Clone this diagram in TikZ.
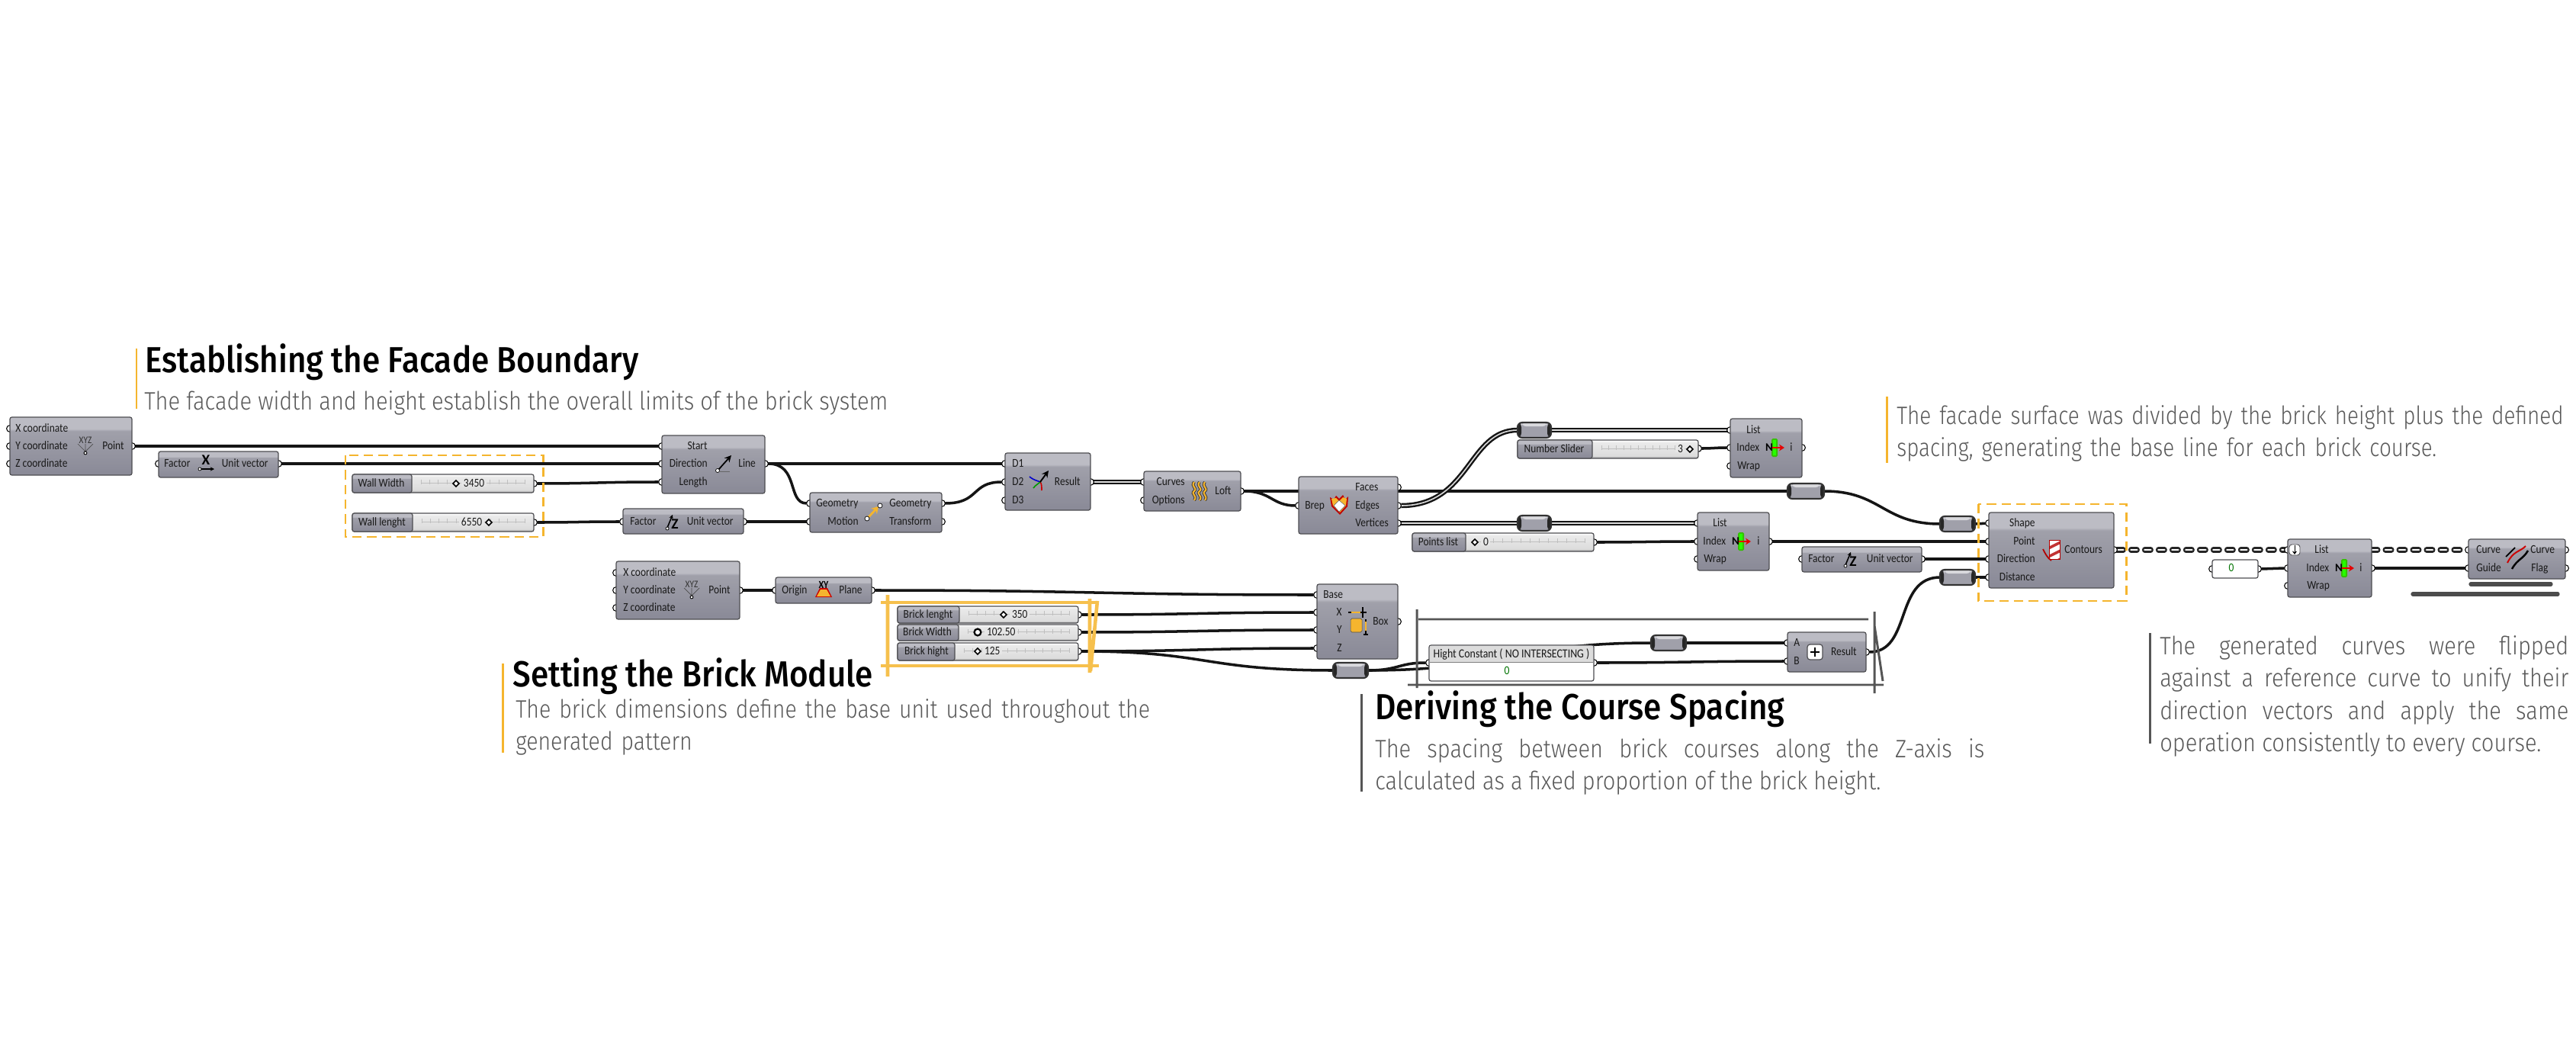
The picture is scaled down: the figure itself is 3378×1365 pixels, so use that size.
\documentclass[tikz,border=0pt]{standalone}
\usepackage{fontspec}
\usetikzlibrary{backgrounds,arrows.meta,calc}
\setmainfont{Carlito}
\newfontfamily\lblf{Carlito}[FakeStretch=0.86]
\newfontfamily\titlef{Fira Sans Medium}[FakeStretch=0.89]
\newfontfamily\bodyf{Fira Sans Light}[FakeStretch=0.88]
\newfontfamily\bodyfb{Fira Sans Light}[FakeStretch=0.862]
\newfontfamily\bodyfc{Fira Sans Light}[FakeStretch=0.843]
\definecolor{orng}{HTML}{F5B52E}
\definecolor{ggb}{HTML}{8B8B98}
\definecolor{ggm}{HTML}{A0A0AA}
\definecolor{ggt}{HTML}{BCBCC4}
\definecolor{edgec}{HTML}{4E4E52}
\definecolor{lightp}{HTML}{DCDCDC}
\definecolor{wirec}{HTML}{151515}
\definecolor{handg}{HTML}{555555}
\definecolor{bodyc}{HTML}{5A5A5A}
\pgfdeclareverticalshading{ghshade}{100bp}{color(0bp)=(ggb); color(25bp)=(ggb); color(28bp)=(ggb); color(63bp)=(ggm); color(65bp)=(ggt); color(74bp)=(ggt); color(75bp)=(ggt); color(100bp)=(ggt)}
\pgfdeclareverticalshading{slidshade}{100bp}{color(0bp)=(lightp!75!black); color(25bp)=(lightp!75!black); color(32bp)=(lightp); color(68bp)=(lightp!60!white); color(75bp)=(white); color(100bp)=(white)}
\tikzset{
  x=0.02cm,y=-0.02cm,
  ghbox/.style={shading=ghshade,draw=edgec,line width=0.7pt,rounded corners=1.5pt,inner sep=0,outer sep=0},
  slidbox/.style={shading=slidshade,draw=edgec,line width=0.7pt,rounded corners=1.5pt,inner sep=0,outer sep=0},
  panelbox/.style={fill=white,draw=edgec,line width=0.7pt,rounded corners=1.5pt,inner sep=0,outer sep=0},
  relaybox/.style={fill=ggm,draw=black!80,line width=1.2pt,rounded corners=3.5pt,inner sep=0,outer sep=0},
  portst/.style={circle,fill=white,draw=black,line width=0.6pt,minimum size=5pt,inner sep=0,outer sep=0},
  lab/.style={font=\lblf\fontsize{8.9}{10}\selectfont,text=black!90,inner sep=0},
  labl/.style={lab,anchor=mid west},
  labr/.style={lab,anchor=mid east},
  labc/.style={lab,anchor=mid},
  wire/.style={line width=2pt,draw=wirec},
  dblw/.style={line width=1.4pt,draw=wirec,double=lightp,double distance=0.9pt},
  chainb/.style={line width=4pt,draw=black!85,line cap=round,dash pattern=on 4.55pt off 5.69pt},
  chainw/.style={line width=1.5pt,draw=white,line cap=round,dash pattern=on 4.55pt off 5.69pt},
  title/.style={font=\titlef\fontsize{27}{30}\selectfont,anchor=base west,inner sep=0,text=black},
  bodyt/.style={font=\bodyf\fontsize{18.8}{24.2}\selectfont,inner sep=0,text=bodyc},
  obar/.style={line width=1.7pt,draw=orng},
  gbar/.style={line width=1.7pt,draw=handg},
  dashbox/.style={draw=orng,line width=1.7pt,dash pattern=on 7pt off 4pt},
  handorng/.style={draw=orng!85,line width=2.6pt},
  handgray/.style={draw=handg,line width=1.7pt},
  shadowbar/.style={draw=black!70,line width=3pt,line cap=round},
  grip/.style={diamond,draw=black,line width=0.9pt,fill=white,inner sep=0,minimum size=5pt},
}
\usetikzlibrary{shapes.geometric}
\newcount\labcnt
\newcommand{\nl}{\global\advance\labcnt by 1 }
\newcommand{\lL}[3]{\nl\node[labl] (tl\the\labcnt) at (#1,#2) {#3};}
\newcommand{\lR}[3]{\nl\node[labr] (tl\the\labcnt) at (#1,#2) {#3};}
\newcommand{\lC}[3]{\nl\node[labc] (tl\the\labcnt) at (#1,#2) {#3};}
\newcommand{\port}[3]{\node[portst] (#1) at (#2,#3) {};}
\newcommand{\comp}[5]{\node[ghbox,minimum width={(#4-#2)*0.02cm},minimum height={(#5-#3)*0.02cm}] (#1) at ({(#2+#4)/2},{(#3+#5)/2}) {};}
\newcommand{\relay}[4]{%
  \node[relaybox,minimum width={(#3-#2)*0.02cm},minimum height=20*0.02cm,path picture={%
    \fill[black!85] (path picture bounding box.north west) rectangle ++(5,20);
    \fill[black!85] (path picture bounding box.north east) rectangle ++(-5,20);
    \fill[white!60!ggm] ($(path picture bounding box.north west)+(5,0)$) rectangle ($(path picture bounding box.north east)+(-5,5)$);
  }] (#1) at ({(#2+#3)/2},#4) {};}
% slider: name x1 y1 x2 y2 div label labelcx
\newcommand{\slider}[8]{%
  \node[slidbox,minimum width={(#4-#2)*0.02cm},minimum height={(#5-#3)*0.02cm}] (#1) at ({(#2+#4)/2},{(#3+#5)/2}) {};
  \node[ghbox,minimum width={(#6-#2)*0.02cm},minimum height={(#5-#3)*0.02cm}] (#1-name) at ({(#2+#6)/2},{(#3+#5)/2}) {};
  \draw[black!25,line width=0.3pt] (#6+12,{(#3+#5)/2-1}) -- (#4-12,{(#3+#5)/2-1});
  \foreach \tk in {0,1,...,12}{\draw[black!25,line width=0.3pt] ({#6+12+\tk*(#4-#6-24)/12},{(#3+#5)/2-5}) -- ++(0,6);}
  \lC{#8}{{(#3+#5)/2}}{#7}
}
\newcommand{\sval}[3]{\nl\node[lab,fill=lightp!70!white,inner xsep=1.5pt,anchor=mid west] (tl\the\labcnt) at (#1,#2) {#3};}
\newcommand{\gripat}[3]{\node[grip] (#1) at (#2,#3) {};}
% icons
\newcommand{\xyzicon}[2]{\begin{scope}[shift={(#1,#2)}]
  \nl\node[inner sep=0,font=\lblf\fontsize{7.5}{8}\selectfont,text=black!80] (tl\the\labcnt) at (0,-8) {XYZ};
  \draw[black!70,line width=0.4pt] (-10,-3) -- (0,7) (0,-3) -- (0,7) (10,-3) -- (0,7);
  \draw[black,line width=0.5pt,fill=white] (0,9) circle (2);
\end{scope}}
\newcommand{\uzicon}[2]{\begin{scope}[shift={(#1,#2)}]
  \nl\node[inner sep=0,font=\bfseries\fontsize{11}{12}\selectfont,text=black] (tl\the\labcnt) at (4,3) {Z};
  \draw[black,line width=0.9pt,-{Stealth[length=3pt,width=3pt]}] (-6,8) -- (1,-9);
  \draw[black,line width=0.4pt,fill=white] (-6,9) circle (2);
\end{scope}}
\newcommand{\nicon}[2]{\begin{scope}[shift={(#1,#2)}]
  \fill[green!70!black!80!yellow,rounded corners=1pt] (-4,-12) rectangle (4,12);
  \fill[green!85!yellow] (-2,-10) rectangle (2,10);
  \nl\node[inner sep=0,font=\bfseries\fontsize{8.5}{9}\selectfont,text=black] (tl\the\labcnt) at (-7,0) {N};
  \draw[red!90!black,line width=1.3pt,-{Stealth[length=4pt,width=5pt]}] (-3,0) -- (13,0);
\end{scope}}
\begin{document}
\begin{tikzpicture}
\useasboundingbox (0,0) rectangle (3378,1365);
\begin{scope}[on background layer]
\fill[white] (0,0) rectangle (3378,1365);
\end{scope}

%%%% ports (drawn first so the boxes cover half of each)
\port{pa1}{13}{562}\port{pa2}{13}{585}\port{pa3}{13}{608}\port{pao}{173}{585}
\port{ux1}{208}{608}\port{uxo}{365}{608}
\port{ww}{700}{634}\port{wl}{700}{685}
\port{ls}{868}{585}\port{ld}{868}{608}\port{ll}{868}{632}\port{lo}{1003}{608}
\port{uz1}{817}{684}\port{uzo}{975}{684}
\port{mg}{1062}{660}\port{mm}{1062}{684}\port{mog}{1235}{660}\port{mot}{1235}{684}
\port{d1}{1318}{608}\port{d2}{1318}{632}\port{d3}{1318}{656}\port{dr}{1430}{632}
\port{lc}{1500}{632}\port{lp}{1500}{656}\port{lf}{1627}{644}
\port{bi}{1703}{663}\port{bf}{1833}{639}\port{be}{1833}{663}\port{bv}{1833}{686}
\port{i1l}{2269}{564}\port{i1i}{2269}{587}\port{i1w}{2269}{611}\port{i1o}{2363}{587}
\port{ns}{2227}{588}\port{pl}{2090}{711}
\port{i2l}{2226}{686}\port{i2i}{2226}{710}\port{i2w}{2226}{733}\port{i2o}{2320}{710}
\port{pb1}{808}{751}\port{pb2}{808}{774}\port{pb3}{808}{797}\port{pbo}{970}{774}
\port{po}{1017}{774}\port{pp}{1143}{774}
\port{bl}{1414}{806}\port{bw}{1414}{829}\port{bh}{1414}{854}
\port{xb}{1727}{780}\port{xx}{1727}{803}\port{xy}{1727}{826}\port{xz}{1727}{850}\port{xo}{1833}{815}
\port{pani}{1874}{869}\port{pano}{2090}{869}
\port{aa}{2344}{843}\port{ab}{2344}{867}\port{ar}{2447}{855}
\port{cs}{2608}{686}\port{cp}{2608}{710}\port{cd}{2608}{733}\port{cn}{2608}{757}\port{co}{2772}{721}
\port{uz3i}{2363}{733}\port{uz3o}{2520}{733}
\port{zi}{2901}{746}\port{zo}{2961}{746}
\port{i3l}{3000}{721}\port{i3i}{3000}{745}\port{i3w}{3000}{768}\port{i3o}{3110}{745}
\port{fc}{3237}{721}\port{fg}{3237}{745}\port{foc}{3364}{721}\port{fof}{3364}{745}

%%%% components
\comp{PtA}{13}{547}{173}{623}
\lL{20}{562}{X coordinate}\lL{20}{585}{Y coordinate}\lL{20}{608}{Z coordinate}\lR{163}{585}{Point}\xyzicon{112}{585}
\comp{UX}{208}{592}{365}{626}
\lL{215}{608}{Factor}\lR{352}{608}{Unit vector}
\nl\node[inner sep=0,font=\bfseries\fontsize{11}{12}\selectfont] (tl\the\labcnt) at (270,603) {X};
\draw[black,line width=0.9pt,-{Stealth[length=3pt,width=3pt]}] (262,615) -- (281,615);
\draw[black,line width=0.4pt,fill=white] (262,615) circle (2);

\slider{WW}{462}{622}{700}{646}{540}{Wall Width}{500}
\gripat{gww}{598}{634}\sval{605}{634}{3450}
\slider{WL}{462}{673}{700}{697}{541}{Wall lenght}{501}
\sval{602}{685}{6550}\gripat{gwl}{641}{685}

\comp{Ln}{868}{571}{1003}{647}
\lR{928}{585}{Start}\lR{928}{608}{Direction}\lR{928}{632}{Length}\lL{968}{608}{Line}
\draw[black,line width=1pt,-{Stealth[length=5pt,width=5pt]}] (942,616) -- (959,597);
\draw[black,line width=0.4pt,fill=white] (941,617) circle (2.5);
\draw[black!60,line width=0.5pt] (943,618) -- (957,618);

\comp{UZ2}{817}{667}{975}{700}
\lL{826}{684}{Factor}\lR{962}{684}{Unit vector}\uzicon{881}{684}

\comp{Mv}{1062}{646}{1235}{698}
\lL{1070}{660}{Geometry}\lR{1126}{684}{Motion}\lL{1166}{660}{Geometry}\lL{1166}{684}{Transform}
\draw[orng,line width=1.6pt,-{Stealth[length=5pt,width=6pt]}] (1139,678) -- (1152,664);
\draw[black,line width=0.4pt,fill=white] (1154,663) circle (3);
\draw[black,line width=0.4pt,fill=white] (1137,680) circle (3);

\comp{Mg}{1318}{594}{1430}{669}
\lL{1327}{608}{D1}\lL{1327}{632}{D2}\lL{1327}{656}{D3}\lR{1417}{632}{Result}
\draw[blue!80!black,line width=0.9pt] (1350,625) .. controls (1356,630) and (1360,630) .. (1364,632);
\draw[red!80!black,line width=0.9pt] (1366,643) .. controls (1366,638) and (1366,634) .. (1364,632);
\draw[green!60!black,line width=0.9pt] (1355,640) .. controls (1358,636) and (1362,634) .. (1364,632);
\draw[black,line width=1.1pt,-{Stealth[length=5pt,width=5pt]}] (1364,632) -- (1375,617);

\comp{Lf}{1500}{618}{1627}{670}
\lR{1554}{632}{Curves}\lR{1554}{656}{Options}\lL{1593}{644}{Loft}
\foreach \dx in {-7,0,7}{
  \draw[black!80,line width=2.2pt,shift={(1573+\dx,644)}] (0,-12) .. controls (-5,-6) and (5,-4) .. (0,0) .. controls (-5,4) and (5,6) .. (0,12);
  \draw[orng,line width=1.2pt,shift={(1573+\dx,644)}] (0,-12) .. controls (-5,-6) and (5,-4) .. (0,0) .. controls (-5,4) and (5,6) .. (0,12);
}

\comp{Br}{1703}{625}{1833}{700}
\lL{1711}{663}{Brep}\lL{1777}{639}{Faces}\lL{1777}{663}{Edges}\lL{1777}{686}{Vertices}
\fill[red!75!black] (1744,652) -- (1749,655) -- (1752,650) -- (1756,654) -- (1761,649) -- (1764,655) -- (1768,651) -- (1767,664) -- (1757,675) -- (1746,664) -- cycle;
\fill[orng] (1746,654) -- (1752,653) -- (1756,657) -- (1761,652) -- (1766,654) -- (1765,663) -- (1757,672) -- (1748,663) -- cycle;
\fill[white,draw=black!60,line width=0.3pt] (1756,656) -- (1764,663) -- (1756,671) -- (1749,663) -- cycle;

\comp{I1}{2269}{549}{2363}{626}
\lL{2290}{564}{List}\lL{2277}{587}{Index}\lL{2278}{611}{Wrap}\nicon{2327}{587}\lC{2349}{587}{i}
\slider{NS}{1990}{577}{2227}{601}{2088}{Number Slider}{2038}
\sval{2197}{589}{3}\gripat{gns}{2216}{589}
\slider{PL}{1852}{699}{2090}{723}{1922}{Points list}{1886}
\gripat{gpl}{1934}{711}\sval{1942}{711}{0}
\comp{I2}{2226}{672}{2320}{748}
\lL{2246}{686}{List}\lL{2233}{710}{Index}\lL{2234}{733}{Wrap}\nicon{2283}{710}\lC{2306}{710}{i}

\comp{PtB}{808}{736}{970}{812}
\lL{817}{751}{X coordinate}\lL{817}{774}{Y coordinate}\lL{817}{797}{Z coordinate}\lR{958}{774}{Point}\xyzicon{907}{774}
\comp{Pln}{1017}{757}{1143}{791}
\lL{1025}{774}{Origin}\lR{1131}{774}{Plane}
\nl\node[inner sep=0,font=\lblf\bfseries\fontsize{8}{9}\selectfont] (tl\the\labcnt) at (1080,767) {XY};
\fill[red!80!black] (1069,783) -- (1075,771) -- (1085,771) -- (1091,783) -- cycle;
\fill[orng] (1071,782) -- (1076,773) -- (1084,773) -- (1089,782) -- cycle;

\slider{BL}{1177}{795}{1414}{817}{1258}{Brick lenght}{1217}
\gripat{gbl}{1316}{806}\sval{1324}{806}{350}
\slider{BW}{1177}{819}{1414}{840}{1257}{Brick Width}{1216}
\node[circle,draw=black,line width=1.3pt,fill=white,inner sep=0,minimum size=5pt] (gbw) at (1282,829) {};\sval{1291}{829}{102.50}
\slider{BH}{1177}{843}{1414}{866}{1252}{Brick hight}{1215}
\gripat{gbh}{1282}{854}\sval{1288}{854}{125}

\comp{Bx}{1727}{766}{1833}{864}
\lL{1735}{780}{Base}\lR{1760}{803}{X}\lR{1760}{826}{Y}\lR{1760}{850}{Z}\lL{1800}{815}{Box}
\fill[orng,draw=black!70,line width=0.3pt,rounded corners=1pt] (1771,811) rectangle (1786,829);
\draw[black,line width=0.9pt] (1768,803) -- (1792,803) (1787,796) -- (1787,810);
\draw[orng,line width=1.6pt] (1772,803) -- (1784,803);
\draw[black,line width=0.9pt] (1791,812) -- (1791,832) (1788,832) -- (1794,832);
\draw[orng,line width=1.6pt] (1791,815) -- (1791,827);

\node[panelbox,minimum width=216*0.02cm,minimum height=47*0.02cm] (Pan) at (1982,869.5) {};
\fill[lightp] (1875,847) rectangle (2089,868);
\draw[black!50,line width=0.3pt] (1875,868) -- (2089,868);
\nl\node[lab,font=\lblf\fontsize{9.2}{10}\selectfont] (tl\the\labcnt) at (1982,858) {Hight Constant ( NO INTERSECTING )};
\nl\node[lab,text=green!45!black,font=\lblf\fontsize{9}{10}\selectfont] (tl\the\labcnt) at (1976,879) {0};

\comp{Ad}{2344}{829}{2447}{881}
\lL{2352}{843}{A}\lL{2352}{867}{B}\lR{2435}{855}{Result}
\node[panelbox,rounded corners=2pt,minimum size=20*0.02cm] (plusb) at (2380,855) {};
\draw[black,line width=1.2pt] (2374,855) -- (2386,855) (2380,849) -- (2380,861);

\comp{Ct}{2608}{672}{2772}{771}
\lR{2669}{686}{Shape}\lR{2669}{710}{Point}\lR{2669}{733}{Direction}\lR{2669}{757}{Distance}\lL{2707}{721}{Contours}
\begin{scope}
\clip (2687,708) rectangle (2701,733);
\fill[white] (2687,708) rectangle (2701,733);
\foreach \sy in {700,711,...,745}{\fill[red!70!black!80] (2686,\sy+6) -- (2702,\sy-2) -- (2702,\sy+2) -- (2686,\sy+10) -- cycle;}
\end{scope}
\draw[red!70!black,line width=0.4pt] (2687,708) rectangle (2701,733);
\draw[red!70!black,line width=1pt] (2679,720) .. controls (2682,726) and (2685,732) .. (2690,735);

\comp{UZ3}{2363}{717}{2520}{750}
\lL{2371}{733}{Factor}\lR{2509}{733}{Unit vector}\uzicon{2426}{733}

\node[panelbox,minimum width=60*0.02cm,minimum height=24*0.02cm] (Zero) at (2931,746) {};
\nl\node[lab,text=green!45!black] (tl\the\labcnt) at (2926,744) {0};

\comp{I3}{3000}{707}{3110}{783}
\lL{3035}{721}{List}\lL{3024}{745}{Index}\lL{3025}{768}{Wrap}\nicon{3074}{745}\lC{3096}{745}{i}
\node[panelbox,rounded corners=2pt,minimum size=14*0.02cm,line width=0.5pt] (gr) at (3009,721) {};
\draw[black,line width=0.6pt,-{Stealth[length=2.5pt,width=3.5pt]}] (3009,715) -- (3009,727);

\comp{Fl}{3237}{707}{3364}{759}
\lL{3247}{721}{Curve}\lL{3247}{745}{Guide}\lL{3318}{721}{Curve}\lL{3319}{745}{Flag}
\draw[red!80!black,line width=1.1pt] (3288,738) .. controls (3296,722) and (3304,724) .. (3312,716);
\draw[black,line width=1.4pt] (3294,746) .. controls (3302,732) and (3308,734) .. (3315,722);
\draw[black,line width=1pt] (3286,730) -- (3298,718);

%%%% relays
\relay{R1}{1990}{2034}{564}
\relay{R2}{2344}{2392}{644}
\relay{R3}{1990}{2034}{686}
\relay{R4}{2544}{2590}{687}
\relay{R5}{2544}{2590}{757}
\relay{R6}{2165}{2211}{843}
\relay{R7}{1748}{1794}{879}

%%%% wires
\begin{scope}[on background layer]
\draw[wire] (pao) -- (ls);
\draw[wire] (uxo) -- (ld);
\draw[wire] (ww) .. controls +(80,0) and +(-80,0) .. (ll);
\draw[wire] (wl) .. controls +(60,0) and +(-60,0) .. (uz1);
\draw[wire] (uzo) -- (mm);
\draw[wire] (lo) -- (d1);
\draw[wire] (lo) .. controls +(45,0) and +(-30,0) .. (mg);
\draw[wire] (mog) .. controls +(50,0) and +(-45,0) .. (d2);
\draw[dblw] (dr) -- (lc);
\draw[wire] (lf) -- (R2.west);
\draw[wire] (lf) .. controls +(40,0) and +(-35,0) .. (bi);
\draw[dblw] (be) .. controls +(95,0) and +(-65,0) .. (R1.west);
\draw[dblw] (R1.east) -- (i1l);
\draw[wire] (ns) .. controls +(20,0) and +(-20,0) .. (i1i);
\draw[dblw] (bv) -- (R3.west);
\draw[dblw] (R3.east) -- (i2l);
\draw[wire] (pl) .. controls +(60,0) and +(-60,0) .. (i2i);
\draw[wire] (i2o) -- (cp);
\draw[wire] (R2.east) .. controls +(75,0) and +(-75,0) .. (R4.west);
\draw[wire] (R4.east) -- (cs);
\draw[wire] (uz3o) -- (cd);
\draw[wire] (ar) .. controls +(60,0) and +(-60,0) .. (R5.west);
\draw[wire] (R5.east) -- (cn);
\draw[chainb] (co) -- (i3l);
\draw[chainw] (co) -- (i3l);
\draw[chainb] (I3.east |- i3l) -- (fc);
\draw[chainw] (I3.east |- i3l) -- (fc);
\draw[wire] (i3o) -- (fg);
\draw[wire] (zo) .. controls +(20,0) and +(-20,0) .. (i3i);
\draw[wire] (pbo) -- (po);
\draw[wire] (pp) .. controls +(280,0) and +(-280,0) .. (xb);
\draw[wire] (bl) .. controls +(150,0) and +(-150,0) .. (xx);
\draw[wire] (bw) .. controls +(150,0) and +(-150,0) .. (xy);
\draw[wire] (bh) .. controls +(150,0) and +(-150,0) .. (xz);
\draw[wire] (bh) .. controls +(170,0) and +(-170,0) .. (R7.west);
\draw[wire] (R7.east) .. controls +(40,0) and +(-40,0) .. (pani);
\draw[wire] (R7.east) .. controls +(180,0) and +(-180,0) .. (R6.west);
\draw[wire] (R6.east) -- (aa);
\draw[wire] (pano) .. controls +(120,0) and +(-120,0) .. (ab);
\end{scope}

%%%% highlight frames
\draw[dashbox] (453,597) rectangle (712,704);
\draw[dashbox] (2594,661) rectangle (2788,788);
\draw[handorng] (1155,790) -- (1441,790) (1155,873) -- (1441,873);
\draw[handorng] (1164,780) -- (1164,887) (1429,785) -- (1429,882) (1439,788) -- (1430,880);
\draw[handgray] (1858,799) -- (1858,902) (1860,812) -- (2450,812) (1846,898) -- (2470,898) (2458,802) -- (2458,909) (2458,820) -- (2469,893);
\draw[shadowbar] (3240,766) -- (3345,766);
\draw[shadowbar] (3164,779) -- (3354,779);

%%%% captions
\draw[obar] (179,457) -- (179,536);
\node[title] (T1) at (190,488) {Establishing the Facade Boundary};
\node[bodyt,anchor=base west] (B1) at (189,537) {The facade width and height establish the overall limits of the brick system};

\draw[obar] (659,870) -- (659,987);
\node[title] (T2) at (672,900) {Setting the Brick Module};
\node[bodyt,font=\bodyfb\fontsize{18.8}{24.2}\selectfont,anchor=north west,text width=900*0.02cm,align=left] (B2) at (676,916) {The brick dimensions define the base unit used throughout the\\generated pattern};

\draw[gbar] (1785,910) -- (1785,1038);
\node[title] (T3) at (1803,943) {Deriving the Course Spacing};
\node[bodyt,anchor=north west,text width=799*0.02cm,align=justify] (B3) at (1803,968) {The spacing between brick courses along the Z-axis is\linebreak calculated as a fixed proportion of the brick height.};

\draw[obar] (2474,520) -- (2474,607);
\node[bodyt,font=\bodyfc\fontsize{18.8}{24.2}\selectfont,anchor=north west,text width=885*0.02cm,align=left] (B4) at (2487,531) {The facade surface was divided by the brick height plus the defined\\spacing, generating the base line for each brick course.};

\draw[gbar] (2819,830) -- (2819,975);
\node[bodyt,anchor=north west,text width=536*0.02cm,align=justify] (B5) at (2832,833) {The generated curves were flipped\linebreak against a reference curve to unify their\linebreak direction vectors and apply the same\linebreak operation consistently to every course.};
\end{tikzpicture}
\end{document}
